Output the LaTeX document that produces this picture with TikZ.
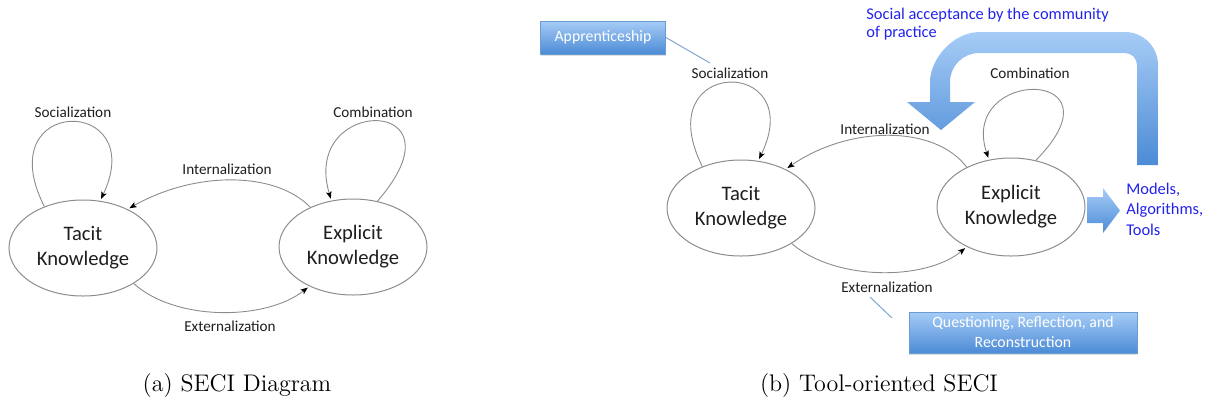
\documentclass[tikz,border=0pt]{standalone}
\usepackage{fontspec}
\newfontfamily\calfont{Carlito}
\usetikzlibrary{shapes.geometric,arrows.meta,shadows}

\definecolor{edgegray}{HTML}{8C8C8C}
\definecolor{inkdark}{HTML}{1E1E1E}
\definecolor{noteblue}{RGB}{34,34,238}
\definecolor{boxtop}{HTML}{A6CCF6}
\definecolor{boxbot}{HTML}{4C8BD6}
\definecolor{boxline}{HTML}{6A9BD3}
\definecolor{leadblue}{HTML}{7FA7D2}

\tikzset{
  knowstate/.style={ellipse, draw=edgegray, line width=0.5pt, minimum width=74pt,
    minimum height=48pt, inner sep=0pt, align=center,
    font=\calfont\fontsize{10.3}{12.5}\selectfont, text=inkdark},
  flowline/.style={draw=edgegray, line width=0.45pt,
    -{Stealth[length=3.6pt,width=2.8pt,inset=0.8pt,color=black]}, shorten >=1pt},
  flowtag/.style={font=\calfont\fontsize{7.6}{9}\selectfont, text=inkdark, inner sep=0pt},
  bluebox/.style={draw=boxline, line width=0.4pt, top color=boxtop, bottom color=boxbot,
    text=white, align=center, inner sep=0pt,
    font=\calfont\fontsize{7.9}{10}\selectfont,
    drop shadow={opacity=0.25, shadow xshift=0pt, shadow yshift=-1.2pt}},
  bluenote/.style={font=\calfont\fontsize{8.2}{10.2}\selectfont, text=noteblue,
    align=left, inner sep=0pt},
  leadline/.style={draw=leadblue, line width=0.5pt},
  subcap/.style={font=\fontsize{12}{14}\selectfont, inner sep=0pt},
  fatarrow/.style={top color=boxtop, bottom color=boxbot, draw=none}
}

\begin{document}
\begin{tikzpicture}[x=0.5pt,y=-0.5pt]
\useasboundingbox (0,0) rectangle (1212,404);

% ---------- (a) SECI diagram ----------
\node[knowstate] (Ta) at (83,248) {Tacit\\Knowledge};
\node[knowstate] (Ea) at (353,247) {Explicit\\Knowledge};

\node[flowtag] (socA) at (73,112) {Socialization};
\node[flowtag] (comA) at (373,112) {Combination};
\node[flowtag] (intA) at (227,169) {Internalization};
\node[flowtag] (extA) at (230,326) {Externalization};

\draw[flowline] (Ta.133) .. controls (-12,95) and (150,95) .. (Ta.70);
\draw[flowline] (Ea.62) .. controls (470,95) and (300,95) .. (Ea.115);
\draw[flowline] (Ea.137) .. controls (275,171) and (195,171) .. (Ta.41);
\draw[flowline] (Ta.-35) .. controls (175,321) and (265,321) .. (Ea.-138);

% ---------- (b) tool-oriented SECI ----------
\node[knowstate] (Tb) at (741,208) {Tacit\\Knowledge};
\node[knowstate, minimum height=49pt] (Eb) at (1011,207) {Explicit\\Knowledge};

\node[flowtag] (socB) at (730,73) {Socialization};
\node[flowtag] (comB) at (1030,73) {Combination};
\node[flowtag] (intB) at (885,129) {Internalization};
\node[flowtag] (extB) at (887,287) {Externalization};

\draw[flowline] (Tb.133) .. controls (647,56) and (809,56) .. (Tb.70);
\draw[flowline] (Eb.62) .. controls (1128,67) and (958,67) .. (Eb.115);
\draw[flowline] (Eb.138) .. controls (935,125) and (850,125) .. (Tb.41);
\draw[flowline] (Tb.-35) .. controls (835,281) and (925,281) .. (Eb.-138);

% callout boxes and their leader lines
\node[bluebox, minimum width=62.5pt, minimum height=16.5pt] (app) at (603,37.5) {Apprenticeship};
\coordinate (appEnd) at (710,63);
\draw[leadline] (app.east) -- (appEnd);

\node[bluebox, minimum width=114pt, minimum height=20.5pt] (qrr) at (1023,332.5)
  {Questioning, Reflection, and\\Reconstruction};
\coordinate (qrrA) at (870,297);
\coordinate (qrrB) at (892,318);
\draw[leadline] (qrrA) -- (qrrB);

% feedback arrow from the tools back into internalization
\shade[fatarrow]
  (1158,165) -- (1158,65)
  .. controls (1158,46.8) and (1143.2,32) .. (1125,32)
  -- (980,32)
  .. controls (952.4,32) and (930,59.6) .. (930,82)
  -- (930,102) -- (907,102) -- (941,130) -- (975,102) -- (950,102)
  -- (950,82)
  .. controls (950,66) and (963,53) .. (979,53)
  -- (1125,53)
  .. controls (1131.6,53) and (1137,58.4) .. (1137,65)
  -- (1137,165) -- cycle;

% output arrow to the tools
\shade[fatarrow]
  (1087,197) -- (1103,197) -- (1103,188) -- (1120,210.5) -- (1103,233)
  -- (1103,223) -- (1087,223) -- cycle;

\node[bluenote, anchor=west] (social) at (866,24)
  {Social acceptance by the community\\[-1.2pt]of practice};
\node[bluenote, anchor=west] (tools) at (1126,209)
  {Models,\\Algorithms,\\Tools};

% ---------- sub-captions ----------
\node[subcap] (capA) at (237,385) {(a) SECI Diagram};
\node[subcap] (capB) at (879,385) {(b) Tool-oriented SECI};
\end{tikzpicture}
\end{document}
